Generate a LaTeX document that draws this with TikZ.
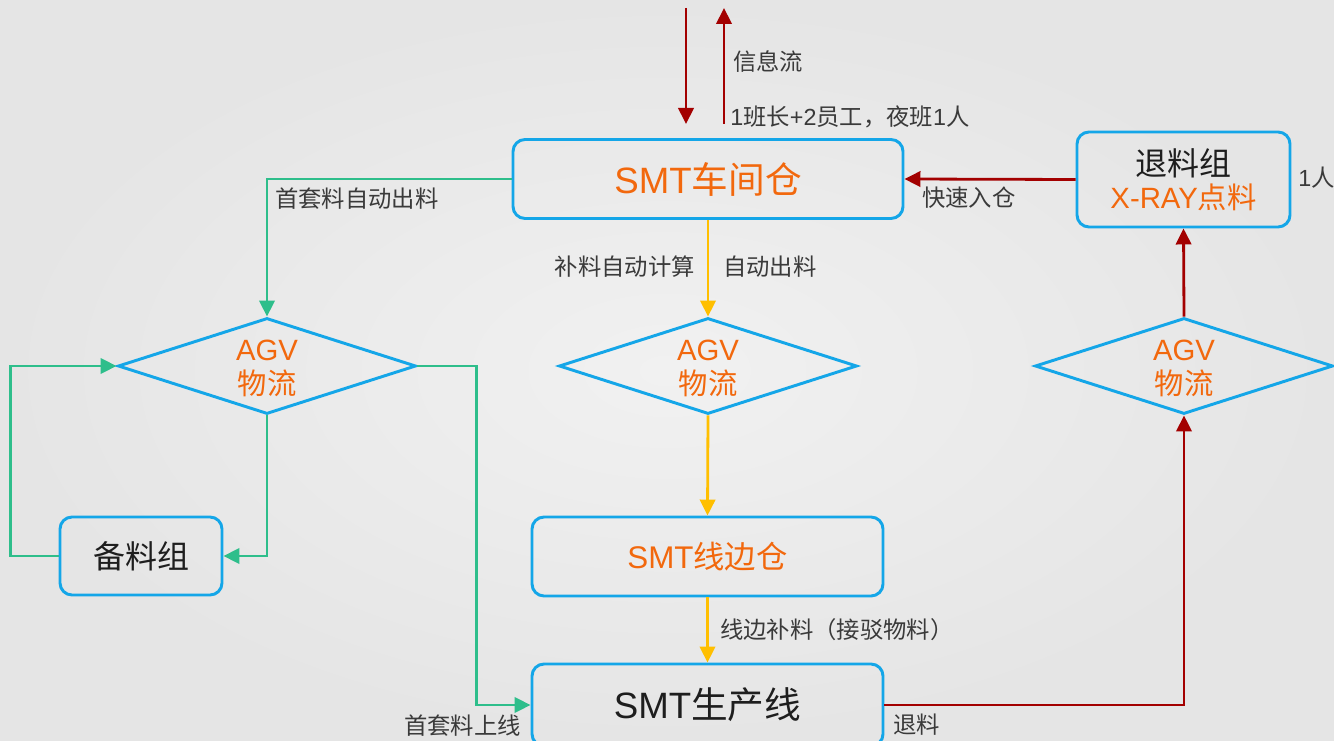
\documentclass[tikz,border=0pt]{standalone}
\usepackage{fontspec}
\setmainfont{Liberation Sans}
\newfontfamily\cjk{Noto Sans CJK SC}
\newcommand\zh[1]{{\cjk #1}}
\usetikzlibrary{shapes.geometric,arrows.meta}
\definecolor{bgin}{HTML}{F1F1F1}
\definecolor{bgout}{HTML}{E5E5E5}
\definecolor{boxblue}{HTML}{14A6E8}
\definecolor{orangetxt}{HTML}{F2680D}
\definecolor{greenln}{HTML}{2EBE8B}
\definecolor{yellowln}{HTML}{FFBF00}
\definecolor{redln}{HTML}{A30000}
\definecolor{labeltxt}{HTML}{3A3A3A}
\definecolor{darktxt}{HTML}{1E1E1E}
\begin{document}
\begin{tikzpicture}[x=0.75pt,y=-0.75pt,
  fbox/.style={draw=boxblue,line width=2.2pt,rounded corners=9pt,inner sep=0pt,align=center},
  dia/.style={diamond,draw=boxblue,line width=2.2pt,inner sep=0pt,aspect=3.1,
     minimum width=223.5pt,minimum height=72pt},
  diatext/.style={align=center,text=orangetxt,inner sep=0pt,
     font=\fontsize{22pt}{25.5pt}\selectfont},
  lbl/.style={text=labeltxt,inner sep=0pt,font=\fontsize{17.5pt}{20pt}\selectfont},
  garrow/.style={draw=greenln,line width=2.1pt,-{Triangle[length=12pt,width=11.5pt]}},
  yarrow/.style={draw=yellowln,line width=2.1pt,-{Triangle[length=12pt,width=11.5pt]}},
  rarrow/.style={draw=redln,line width=2.1pt,-{Triangle[length=12pt,width=11.5pt]}}
]
\useasboundingbox (0,0) rectangle (1334,741);
\clip (0,0) rectangle (1334,741);
\shade[inner color=bgin,outer color=bgout] (0,0) rectangle (1334,741);

% boxes
\node[fbox,minimum width=292.5pt,minimum height=59.25pt,text=orangetxt,
  font=\fontsize{27.5pt}{30pt}\selectfont] (ws) at (708,179) {SMT\zh{车间仓}};
\node[fbox,minimum width=159.75pt,minimum height=71.25pt] (rt) at (1183.5,179.5)
  {{\color{darktxt}\fontsize{24pt}{27pt}\selectfont\zh{退料组}}\\[3pt]
   {\color{orangetxt}\fontsize{22pt}{25pt}\selectfont X-RAY\zh{点料}}};
\node[fbox,minimum width=121.5pt,minimum height=58.5pt,text=darktxt,
  font=\fontsize{24pt}{27pt}\selectfont] (bl) at (141,556) {\zh{备料组}};
\node[fbox,minimum width=263.25pt,minimum height=59.25pt,text=orangetxt,
  font=\fontsize{23.5pt}{27pt}\selectfont] (se) at (707.5,556.5) {SMT\zh{线边仓}};
\node[fbox,minimum width=263.25pt,minimum height=61.5pt,text=darktxt,
  font=\fontsize{27.5pt}{30pt}\selectfont] (pl) at (707.5,705) {SMT\zh{生产线}};

% diamonds
\node[dia] (d1) at (267,366) {};
\node[dia] (d2) at (708,366) {};
\node[dia] (d3) at (1184,366) {};
\node[diatext] (t1) at (267,368) {AGV\\\zh{物流}};
\node[diatext] (t2) at (708,368) {AGV\\\zh{物流}};
\node[diatext] (t3) at (1184,368) {AGV\\\zh{物流}};

% info flow
\coordinate (i1a) at (686,8);
\coordinate (i1b) at (686,124);
\coordinate (i2a) at (724,124);
\coordinate (i2b) at (724,8);
\draw[rarrow] (i1a) -- (i1b);
\draw[rarrow] (i2a) -- (i2b);
\node[lbl,anchor=west] (linfo) at (733,62) {\zh{信息流}};
\node[lbl,anchor=west] (lstaff) at (730,117) {1\zh{班长}+2\zh{员工，夜班}1\zh{人}};

% green flows
\draw[garrow] (ws.west) -| (d1.north);
\node[lbl,anchor=west] (lg1) at (275,199) {\zh{首套料自动出料}};
\draw[garrow] (bl.west) -- ++(-48,0) |- (d1.west);
\draw[garrow] (d1.south) |- (bl.east);
\draw[garrow] (d1.east) -- ++(59,0) |- (pl.west);
\node[lbl,anchor=east] (lg2) at (521,726) {\zh{首套料上线}};

% yellow flows
\draw[yarrow] (ws.south) -- (d2.north);
\node[lbl,anchor=east] (ly1) at (695,267) {\zh{补料自动计算}};
\node[lbl,anchor=west] (ly2) at (723,267) {\zh{自动出料}};
\draw[yarrow] (d2.south) -- (se.north);
\draw[yarrow] (se.south) -- (pl.north);
\node[lbl,anchor=west] (ly3) at (720,630) {\zh{线边补料（接驳物料）}};

% red flows
\draw[rarrow] (pl.east) -| (d3.south);
\node[lbl,anchor=west] (lr1) at (893,725) {\zh{退料}};
\draw[rarrow] (d3.north) -- (rt.south);
\draw[rarrow] (rt.west) -- (ws.east);
\node[lbl,anchor=west] (lr2) at (922,198) {\zh{快速入仓}};
\node[lbl,anchor=west] (lr3) at (1298,178) {1\zh{人}};
\end{tikzpicture}
\end{document}
